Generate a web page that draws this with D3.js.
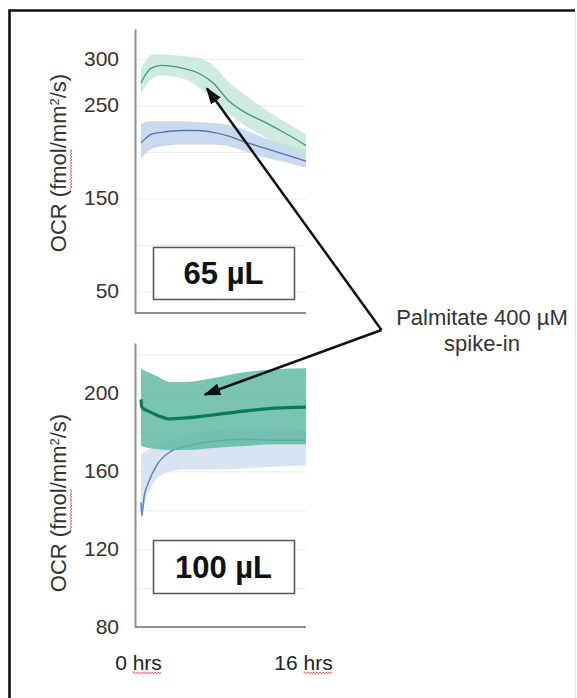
<!DOCTYPE html>
<html>
<head>
<meta charset="utf-8">
<script src="https://cdn.jsdelivr.net/npm/d3@7"></script>
<style>
  body { margin: 0; background: #fff; }
  text { font-family: "Liberation Sans", Arial, sans-serif; }
</style>
</head>
<body>
<div id="chart"></div>
<script>
// hours and OCR values (65 uL panel)
var topHours  = [0, 0.5, 1, 2, 4, 5.5, 7, 8.5, 10, 12, 14, 16];
var topPalm   = [274, 284, 290, 293, 290, 285, 274, 255, 243, 232, 220, 207];
var topPalmHi = [289, 299, 304, 305, 303, 301, 293, 275, 262, 246, 232, 219];
var topPalmLo = [262, 272, 278, 282, 279, 270, 257, 241, 229, 216, 205, 194];
var topCtrl   = [210, 215, 219, 221, 223, 223, 221, 217, 211, 204, 197, 190];
var topCtrlHi = [230, 232, 233, 233, 233, 232, 231, 229, 224, 215, 208, 202];
var topCtrlLo = [192, 199, 203, 206, 208, 208, 208, 206, 201, 194, 189, 183];

// 100 uL panel
var botHours  = [0, 0.08, 0.3, 0.7, 1.5, 2.8, 4.4, 7, 10, 13, 16];
var botPalm   = [197, 193, 192, 191, 189, 187, 187.5, 189, 191, 192.5, 193];
var botPalmHi = [213, 212.5, 212, 211, 209, 206, 206, 208, 211, 212.5, 213];
var botPalmLo = [173, 173, 172.5, 172, 171.5, 171, 171, 172, 173, 174, 174];
var botCtrl   = [144, 137, 147, 154, 163, 170, 173, 175.5, 176.5, 176, 176];
var botCtrlHi = [168, 169, 170, 171, 173, 176, 179, 181, 182, 182, 181];
var botCtrlLo = [130, 138, 142, 149, 156, 160, 161, 161, 161.5, 162.5, 163];

var topTicks = [300, 250, 150, 50];
var topGrid  = [50, 100, 150, 200, 250, 300];
var botTicks = [200, 160, 120, 80];
var botGrid  = [100, 120, 140, 160, 180, 200, 220];
var xTicks   = [0, 16];
var xLabels  = ["0 hrs", "16 hrs"];

var W = 577, H = 698;
var axisX = 135, plotRight = 306;

var svg = d3.select("#chart").append("svg")
    .attr("width", W)
    .attr("height", H);

// outer frame
svg.append("path")
    .attr("d", "M9.5,700 L9.5,10.5 L575,10.5")
    .attr("fill", "none")
    .attr("stroke", "#111")
    .attr("stroke-width", 2.6);
svg.append("line")
    .attr("x1", 575.5).attr("x2", 575.5).attr("y1", 11).attr("y2", 700)
    .attr("stroke", "#e4e4e4").attr("stroke-width", 1);

var x = d3.scaleLinear().domain([0, 16]).range([141, plotRight]);

var yTop = d3.scaleLinear().domain([27, 332]).range([313, 29]);
var yBot = d3.scaleLinear().domain([80, 226]).range([627, 343]);

function squiggle(g, x0, x1, y) {
  var d = "M" + x0 + "," + y;
  var up = true;
  for (var px = x0 + 1.5; px <= x1; px += 1.5) {
    d += " L" + px + "," + (y + (up ? -1 : 1));
    up = !up;
  }
  g.append("path").attr("d", d)
    .attr("fill", "none").attr("stroke", "#e25a5a").attr("stroke-width", 0.9);
}

function rows(hours, mid, hi, lo) {
  return hours.map(function(h, i) { return {h: h, m: mid[i], hi: hi[i], lo: lo[i]}; });
}

function drawPanel(y, grid, ticks, palm, ctrl, styles) {
  var g = svg.append("g");

  // gridlines
  g.append("g")
    .attr("transform", "translate(" + axisX + ",0)")
    .call(d3.axisLeft(y).tickValues(grid).tickSize(-(plotRight - axisX)).tickFormat(""))
    .call(function(s) { s.select(".domain").remove(); })
    .selectAll("line")
    .attr("stroke", "#ebebeb");

  var area = d3.area()
      .x(function(d) { return x(d.h); })
      .y0(function(d) { return y(d.lo); })
      .y1(function(d) { return y(d.hi); })
      .curve(d3.curveMonotoneX);
  var line = d3.line()
      .x(function(d) { return x(d.h); })
      .y(function(d) { return y(d.m); })
      .curve(d3.curveMonotoneX);

  g.append("path").datum(ctrl).attr("d", area)
    .attr("fill", styles.ctrlBand);
  g.append("path").datum(ctrl).attr("d", line)
    .attr("fill", "none").attr("stroke", styles.ctrlLine).attr("stroke-width", styles.ctrlWidth);
  g.append("path").datum(palm).attr("d", area)
    .attr("fill", styles.palmBand).attr("fill-opacity", styles.palmOpacity);
  g.append("path").datum(palm).attr("d", line)
    .attr("fill", "none").attr("stroke", styles.palmLine).attr("stroke-width", styles.palmWidth);

  // y axis with labels
  var ax = g.append("g")
    .attr("transform", "translate(" + axisX + ",0)")
    .call(d3.axisLeft(y).tickValues(ticks).tickSize(0).tickSizeOuter(0).tickPadding(16));
  ax.select(".domain").attr("stroke", "#8f8f8f").attr("stroke-width", 2);
  ax.selectAll("text")
    .attr("font-size", 21)
    .attr("fill", "#333")
    .attr("dy", "0.3em");

  // x axis line
  g.append("line")
    .attr("x1", axisX).attr("x2", plotRight)
    .attr("y1", y.range()[0]).attr("y2", y.range()[0])
    .attr("stroke", "#8f8f8f").attr("stroke-width", 2);

  return g;
}

drawPanel(yTop, topGrid, topTicks,
  rows(topHours, topPalm, topPalmHi, topPalmLo),
  rows(topHours, topCtrl, topCtrlHi, topCtrlLo),
  {ctrlBand: "#cadaee", ctrlLine: "#5275ae", ctrlWidth: 1.3,
   palmBand: "#bfe4d6", palmOpacity: 0.75, palmLine: "#3f9a7d", palmWidth: 1.3});

drawPanel(yBot, botGrid, botTicks,
  rows(botHours, botPalm, botPalmHi, botPalmLo),
  rows(botHours, botCtrl, botCtrlHi, botCtrlLo),
  {ctrlBand: "#d8e4f2", ctrlLine: "#5f84c2", ctrlWidth: 1.5,
   palmBand: "#5cb8a0", palmOpacity: 0.82, palmLine: "#0b7a5c", palmWidth: 3.2});

// x labels
var xa = svg.append("g")
  .attr("transform", "translate(0," + yBot.range()[0] + ")")
  .call(d3.axisBottom(x).tickValues(xTicks).tickSize(0).tickPadding(28)
        .tickFormat(function(d, i) { return xLabels[i]; }));
xa.select(".domain").remove();
xa.selectAll("text").attr("font-size", 21).attr("fill", "#222").attr("x", -3);
xa.selectAll(".tick").each(function() {
  var t = d3.select(this).select("text").node();
  var total = t.getComputedTextLength();
  var s = t.textContent;
  var i = s.indexOf("hrs");
  var start = -3 - total / 2 + t.getSubStringLength(0, i);
  var len = t.getSubStringLength(i, 3);
  squiggle(d3.select(this), start, start + len, 46);
});

// y titles
[yTop, yBot].forEach(function(y) {
  var cy = y === yTop ? 163 : 503;
  var tg = svg.append("g").attr("transform", "translate(66," + cy + ") rotate(-90)");
  var t = tg.append("text")
    .attr("text-anchor", "middle")
    .attr("font-size", 22)
    .attr("fill", "#333");
  t.append("tspan").text("OCR (fmol/mm");
  t.append("tspan").attr("baseline-shift", "super").attr("font-size", 13).text("2");
  t.append("tspan").text("/s)");
  var node = t.node();
  var total = node.getComputedTextLength();
  var start = -total / 2 + node.getSubStringLength(0, 5);
  squiggle(tg, start, start + node.getSubStringLength(5, 4), 5);
});

// volume boxes
var boxes = [{label: "65 µL", y0: 247, y1: 299}, {label: "100 µL", y0: 540, y1: 593}];
boxes.forEach(function(b) {
  svg.append("rect")
    .attr("x", 153.5).attr("y", b.y0 + 0.5)
    .attr("width", 141).attr("height", b.y1 - b.y0)
    .attr("fill", "#fff").attr("stroke", "#555").attr("stroke-width", 1.5);
  svg.append("text")
    .attr("x", 223.5).attr("y", (b.y0 + b.y1) / 2 + 11)
    .attr("text-anchor", "middle")
    .attr("font-size", 31).attr("font-weight", "bold")
    .attr("fill", "#111")
    .text(b.label);
});

// annotation arrows
var defs = svg.append("defs");
defs.append("marker")
  .attr("id", "head")
  .attr("viewBox", "0 0 10 10")
  .attr("refX", 9).attr("refY", 5)
  .attr("markerWidth", 17).attr("markerHeight", 12)
  .attr("markerUnits", "userSpaceOnUse")
  .attr("preserveAspectRatio", "none")
  .attr("orient", "auto")
  .append("path").attr("d", "M0,0 L10,5 L0,10 z").attr("fill", "#111");

var vertex = [381.5, 330];
var tips = [[x(6.4), yTop(268)], [x(6.2), yBot(199.5)]];
tips.forEach(function(p) {
  svg.append("line")
    .attr("x1", vertex[0]).attr("y1", vertex[1])
    .attr("x2", p[0]).attr("y2", p[1])
    .attr("stroke", "#111").attr("stroke-width", 2.5)
    .attr("marker-end", "url(#head)");
});

svg.append("text")
  .attr("x", 482).attr("y", 325)
  .attr("text-anchor", "middle").attr("font-size", 22).attr("fill", "#333")
  .text("Palmitate 400 µM");
svg.append("text")
  .attr("x", 482).attr("y", 351)
  .attr("text-anchor", "middle").attr("font-size", 22).attr("fill", "#333")
  .text("spike-in");
</script>
</body>
</html>
